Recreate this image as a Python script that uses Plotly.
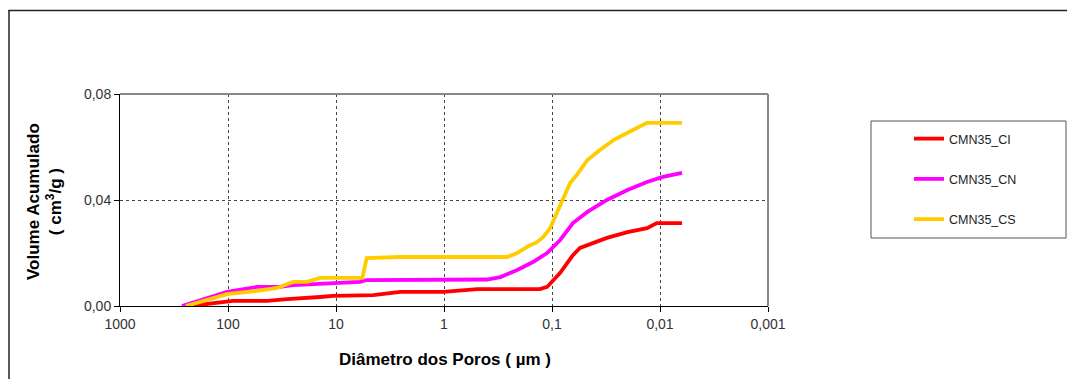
import plotly.graph_objects as go

# Data (diameter in µm, cumulative volume in cm3/g)
ci_d = [225, 90, 43.5, 28.4, 14, 10.7, 4.5, 3.0, 2.55, 1.02, 0.49, 0.129, 0.111,
        0.084, 0.0726, 0.064, 0.0551, 0.047, 0.031, 0.020, 0.0132, 0.0107, 0.00625]
ci_v = [0, 0.0019, 0.0019, 0.0026, 0.0034, 0.0038, 0.0041, 0.0049, 0.0053, 0.0053,
        0.0064, 0.0064, 0.0072, 0.0125, 0.0162, 0.0192, 0.0219, 0.0230, 0.0257,
        0.0279, 0.0294, 0.0313, 0.0313]

cn_d = [266.7, 102, 54, 33, 25, 10.7, 6.0, 5.2, 0.88, 0.40, 0.30, 0.21, 0.15,
        0.111, 0.084, 0.064, 0.047, 0.031, 0.020, 0.0132, 0.0094, 0.00625]
cn_v = [0, 0.0053, 0.0072, 0.0072, 0.0079, 0.0087, 0.0091, 0.0098, 0.0100, 0.0100,
        0.0109, 0.0136, 0.0166, 0.0200, 0.0249, 0.0313, 0.0355, 0.0400, 0.0438,
        0.0468, 0.0487, 0.0502]

cs_d = [245, 102, 54, 35, 25, 18.6, 14, 5.7, 5.2, 2.55, 0.88, 0.26, 0.21, 0.17,
        0.138, 0.121, 0.104, 0.090, 0.079, 0.068, 0.059, 0.047, 0.036, 0.027,
        0.0178, 0.0132, 0.00625]
cs_v = [0, 0.0045, 0.0057, 0.0068, 0.0091, 0.0091, 0.0106, 0.0106, 0.0181, 0.0185,
        0.0185, 0.0185, 0.0200, 0.0223, 0.0241, 0.0260, 0.0294, 0.0351, 0.0411,
        0.0464, 0.0494, 0.0551, 0.0589, 0.0626, 0.0664, 0.0691, 0.0691]

series_names = ["CMN35_CI", "CMN35_CN", "CMN35_CS"]
series_colors = ["#FF0000", "#FF00FF", "#FFCC00"]

x_tickvals = [1000, 100, 10, 1, 0.1, 0.01, 0.001]
x_ticktext = ["1000", "100", "10", "1", "0,1", "0,01", "0,001"]
y_tickvals = [0, 0.04, 0.08]
y_ticktext = ["0,00", "0,04", "0,08"]

# page is rendered with an 8px body margin; figure coords = page coords - OFF
OFF = 8
PAGE_W, PAGE_H = 1075, 387
W, H = PAGE_W - 2 * OFF, PAGE_H - 2 * OFF
PX_L, PX_R, PX_T, PX_B = 120, 768, 94, 306   # plot area in page pixels
L, R = PX_L - OFF, OFF + W - PX_R
T, B = PX_T - OFF, OFF + H - PX_B
pw, ph = PX_R - PX_L, PX_B - PX_T


def px_x(p):
    return (p - PX_L) / pw


def px_y(p):
    return (PX_B - p) / ph


fig = go.Figure()
for i, (d, v) in enumerate([(ci_d, ci_v), (cn_d, cn_v), (cs_d, cs_v)]):
    fig.add_trace(go.Scatter(
        x=d, y=v, mode="lines", name=series_names[i],
        line=dict(color=series_colors[i], width=3.8),
        legendgroup=series_names[i],
    ))

font = "Arial, 'Liberation Sans', sans-serif"

fig.update_layout(
    width=W, height=H,
    margin=dict(l=L, r=R, t=T, b=B, autoexpand=False),
    paper_bgcolor="white", plot_bgcolor="white",
    font=dict(family=font, size=14, color="#222"),
    showlegend=True,
    legend=dict(
        x=px_x(909), y=px_y(124), xanchor="left", yanchor="top",
        bgcolor="rgba(0,0,0,0)", borderwidth=0,
        font=dict(family=font, size=12.5, color="#222"),
        tracegroupgap=21,
    ),
    xaxis=dict(
        type="log", range=[3, -3],
        tickvals=x_tickvals, ticktext=x_ticktext,
        showgrid=True, gridcolor="#444", griddash="dot", gridwidth=1,
        showline=True, linecolor="black", linewidth=1,
        ticks="outside", ticklen=5, tickcolor="black",
        zeroline=False,
        tickfont=dict(size=14, color="#333"),
    ),
    yaxis=dict(
        range=[0, 0.08],
        tickvals=y_tickvals, ticktext=y_ticktext,
        showgrid=True, gridcolor="#444", griddash="dot", gridwidth=1,
        showline=True, linecolor="black", linewidth=1,
        ticks="outside", ticklen=5, tickcolor="black",
        zeroline=False,
        tickfont=dict(size=14, color="#333"),
    ),
    shapes=[
        dict(type="line", xref="paper", yref="paper", x0=0, x1=1, y0=1, y1=1,
             line=dict(color="#888", width=2)),
        dict(type="line", xref="paper", yref="paper", x0=1, x1=1, y0=0, y1=1,
             line=dict(color="#888", width=2)),
        # outer chart border: left and top edges only (others run off the image)
        dict(type="line", xref="paper", yref="paper",
             x0=px_x(9), x1=px_x(9), y0=px_y(10), y1=px_y(440),
             line=dict(color="#222", width=1.5), layer="below"),
        dict(type="line", xref="paper", yref="paper",
             x0=px_x(8.5), x1=px_x(1120), y0=px_y(10.5), y1=px_y(10.5),
             line=dict(color="#222", width=1.5), layer="below"),
        dict(type="rect", xref="paper", yref="paper",
             x0=px_x(871), x1=px_x(1066), y0=px_y(238), y1=px_y(121),
             line=dict(color="#555", width=1)),
    ],
    annotations=[
        dict(text="Diâmetro dos Poros ( µm )", xref="paper", yref="paper",
             x=px_x(445), y=px_y(359), xanchor="center", yanchor="middle",
             showarrow=False,
             font=dict(family=font, size=17, color="black", weight="bold")),
        dict(text="Volume Acumulado<br>( cm<sup>3</sup>/g )", xref="paper", yref="paper",
             x=px_x(44), y=px_y(202), xanchor="center", yanchor="middle",
             showarrow=False, textangle=-90,
             font=dict(family=font, size=17, color="black", weight="bold")),
    ],
)

fig.write_html("out.html")
